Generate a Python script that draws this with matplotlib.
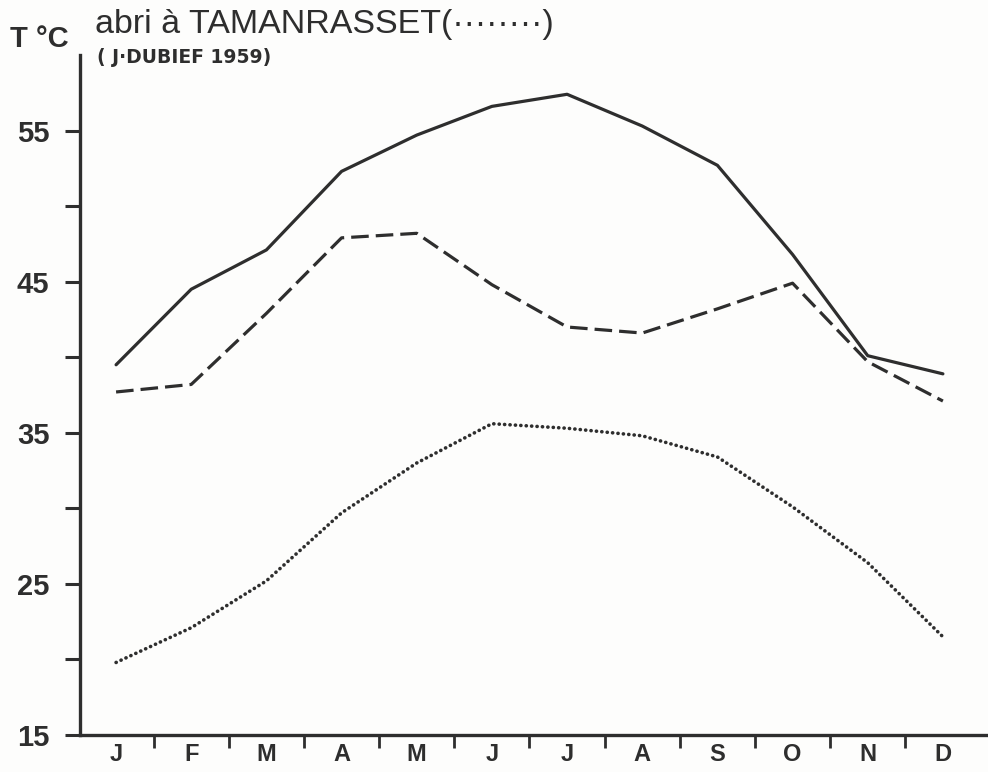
import matplotlib
matplotlib.use("Agg")
import matplotlib.pyplot as plt
import numpy as np

months = ["J", "F", "M", "A", "M", "J", "J", "A", "S", "O", "N", "D"]
solid_vals = [39.5, 44.5, 47.1, 52.3, 54.7, 56.6, 57.4, 55.3, 52.7, 46.8, 40.1, 38.9]
dashed_vals = [37.7, 38.2, 42.9, 47.9, 48.2, 44.8, 42.0, 41.6, 43.2, 44.9, 39.7, 37.1]
abri_vals = [19.8, 22.1, 25.2, 29.7, 33.0, 35.6, 35.3, 34.8, 33.4, 30.1, 26.4, 21.5]
ytick_vals = [15, 20, 25, 30, 35, 40, 45, 50, 55]
ytick_labels = ["15", "", "25", "", "35", "", "45", "", "55"]

ink = "#2e2e2e"
plt.rcParams['font.family'] = ['Liberation Sans', 'DejaVu Sans']

fig = plt.figure(figsize=(9.88, 7.72), dpi=100, facecolor="#fdfdfc")
ax = fig.add_axes([80/988, 1-735/772, 1-80/988, (735-55)/772])
ax.set_facecolor("none")

x = np.arange(len(months))
ax.plot(x, solid_vals, color=ink, lw=2.3, solid_capstyle="round", solid_joinstyle="round")
ax.plot(x, dashed_vals, color=ink, lw=2.3, linestyle=(0, (5.5, 2.2)), dash_capstyle="butt")
ax.plot(x, abri_vals, color=ink, lw=2.6, linestyle=(0, (0.05, 1.45)), dash_capstyle="round")

ax.set_xlim(-0.48, 11.6)
ax.set_ylim(15, 60)

for s in ["top", "right"]:
    ax.spines[s].set_visible(False)
for s in ["left", "bottom"]:
    ax.spines[s].set_linewidth(2.4)
    ax.spines[s].set_color(ink)

ax.set_yticks(ytick_vals)
ax.set_yticklabels(ytick_labels, fontsize=21, fontweight="bold", color=ink)
ax.tick_params(axis="y", direction="out", length=11, width=2.2, color=ink, pad=11)

ax.set_xticks(x)
ax.set_xticklabels(months, fontsize=17, fontweight="bold", color=ink)
ax.set_xticks(np.arange(len(months) - 1) + 0.5, minor=True)
ax.tick_params(axis="x", which="major", length=0, pad=6)
ax.tick_params(axis="x", which="minor", direction="out", length=9, width=2.0, color=ink)

fig.text(10/988, 1-47/772, "T °C", fontsize=21, fontweight="bold", color=ink, ha="left", va="baseline")
fig.text(95/988, 1-33/772, "abri à TAMANRASSET(········)", fontsize=24.5, color=ink,
         ha="left", va="baseline")
fig.text(97/988, 1-63/772, "( J·DUBIEF 1959)", fontsize=13.5, fontweight="bold", color=ink,
         ha="left", va="baseline", family=["DejaVu Sans"])

fig.savefig("out.png", dpi=100, facecolor=fig.get_facecolor())
